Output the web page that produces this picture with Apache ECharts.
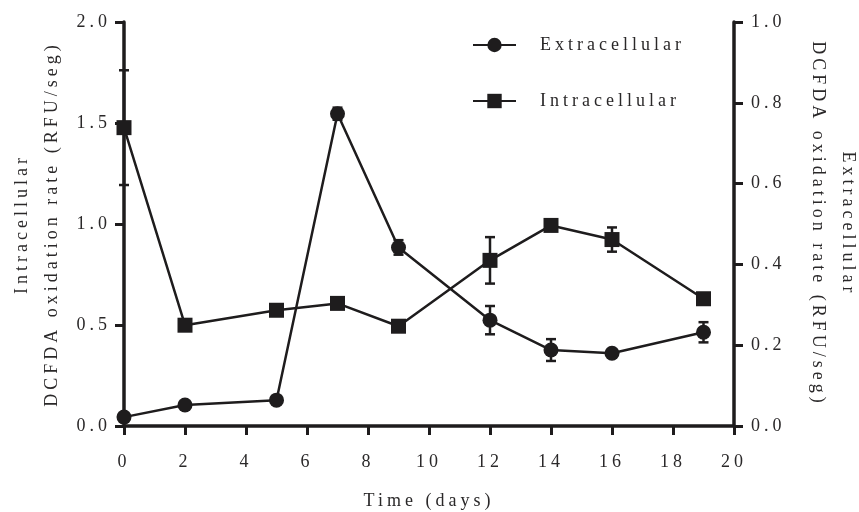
<!DOCTYPE html>
<html><head><meta charset="utf-8">
<script src="https://cdn.jsdelivr.net/npm/echarts@6/dist/echarts.min.js"></script>
<style>
html,body{margin:0;padding:0;background:#fff;}
#c{width:859px;height:512px;}
</style></head><body><div id="c"></div>
<script>
const days = [0, 2, 5, 7, 9, 12, 14, 16, 19];
const extracellular = [0.022, 0.052, 0.064, 0.773, 0.442, 0.262, 0.188, 0.180, 0.232];
const extracellularErr = [0, 0, 0, 0.015, 0.018, 0.035, 0.027, 0, 0.025];
const intracellular = [1.477, 0.499, 0.573, 0.607, 0.494, 0.820, 0.993, 0.923, 0.630];
const intracellularErr = [0.284, 0, 0, 0, 0, 0.115, 0, 0.06, 0];
const seriesNames = ['Extracellular', 'Intracellular'];
const xTitle = 'Time (days)';
const leftTitle = 'Intracellular\nDCFDA oxidation rate (RFU/seg)';
const rightTitle = 'Extracellular\nDCFDA oxidation rate (RFU/seg)';

const INK = '#1e1c1d';
const TXT = '#2a2829';
const FONT = "'Liberation Serif', 'DejaVu Serif', serif";
const FS = 18;

// letter spacing (the reference typesets its texts with wide tracking)
(function () {
  const P = CanvasRenderingContext2D.prototype;
  const of = P.fillText, om = P.measureText;
  P.fillText = function () { this.letterSpacing = '4px'; return of.apply(this, arguments); };
  P.measureText = function () { this.letterSpacing = '4px'; return om.apply(this, arguments); };
})();

const chart = echarts.init(document.getElementById('c'), null, {renderer: 'canvas'});

function errSeries(yIndex, vals, errs) {
  const data = [];
  days.forEach((d, i) => { if (errs[i] > 0) data.push([d, vals[i] - errs[i], vals[i] + errs[i]]); });
  return {
    type: 'custom', yAxisIndex: yIndex, z: 1, silent: true,
    data: data,
    encode: {x: 0, y: [1, 2]},
    renderItem: function (params, api) {
      const x = api.value(0);
      const p1 = api.coord([x, api.value(1)]);
      const p2 = api.coord([x, api.value(2)]);
      const w = 5;
      const st = {stroke: INK, lineWidth: 2.5};
      return {type: 'group', children: [
        {type: 'line', shape: {x1: p1[0], y1: p1[1], x2: p2[0], y2: p2[1]}, style: st},
        {type: 'line', shape: {x1: p1[0] - w, y1: p1[1], x2: p1[0] + w, y2: p1[1]}, style: st},
        {type: 'line', shape: {x1: p2[0] - w, y1: p2[1], x2: p2[0] + w, y2: p2[1]}, style: st}
      ]};
    }
  };
}

const axisCommon = {
  axisLine: {show: true, lineStyle: {color: INK, width: 3.5}},
  axisTick: {show: true, length: 9, lineStyle: {color: INK, width: 3}},
  splitLine: {show: false},
  nameMoveOverlap: false,
  nameTextStyle: {color: TXT, fontSize: FS, fontFamily: FONT, lineHeight: 30}
};

chart.setOption({
  animation: false,
  backgroundColor: '#fff',
  grid: {left: 124, right: 125, top: 22, bottom: 86, containLabel: false, outerBoundsMode: 'none'},
  legend: {
    orient: 'vertical', left: 472, top: 34, padding: 0, itemWidth: 43, itemHeight: 18, itemGap: 34,
    data: seriesNames,
    textStyle: {color: TXT, fontSize: FS, fontFamily: FONT, padding: [0, 0, 0, 19]}
  },
  xAxis: Object.assign({}, axisCommon, {
    type: 'value', min: 0, max: 20, interval: 2,
    name: xTitle, nameLocation: 'middle', nameGap: 60,
    axisLabel: {color: TXT, fontSize: FS, fontFamily: FONT, margin: 25}
  }),
  yAxis: [
    Object.assign({}, axisCommon, {
      type: 'value', position: 'left', min: 0, max: 2, interval: 0.5,
      name: leftTitle, nameLocation: 'middle', nameRotate: 90, nameGap: 57,
      axisLabel: {color: TXT, fontSize: FS, fontFamily: FONT, margin: 13, formatter: v => v.toFixed(1)}
    }),
    Object.assign({}, axisCommon, {
      type: 'value', position: 'right', min: 0, max: 1, interval: 0.2,
      name: rightTitle, nameLocation: 'middle', nameRotate: -90, nameGap: 69,
      axisLabel: {color: TXT, fontSize: FS, fontFamily: FONT, margin: 17, formatter: v => v.toFixed(1)}
    })
  ],
  series: [
    errSeries(1, extracellular, extracellularErr),
    errSeries(0, intracellular, intracellularErr),
    {
      name: seriesNames[0], type: 'line', yAxisIndex: 1, z: 3,
      data: days.map((d, i) => [d, extracellular[i]]),
      symbol: 'circle', symbolSize: 15,
      lineStyle: {color: INK, width: 2.5}, itemStyle: {color: INK}
    },
    {
      name: seriesNames[1], type: 'line', yAxisIndex: 0, z: 3,
      data: days.map((d, i) => [d, intracellular[i]]),
      symbol: 'rect', symbolSize: 15,
      lineStyle: {color: INK, width: 2.5}, itemStyle: {color: INK}
    }
  ]
});
</script></body></html>
